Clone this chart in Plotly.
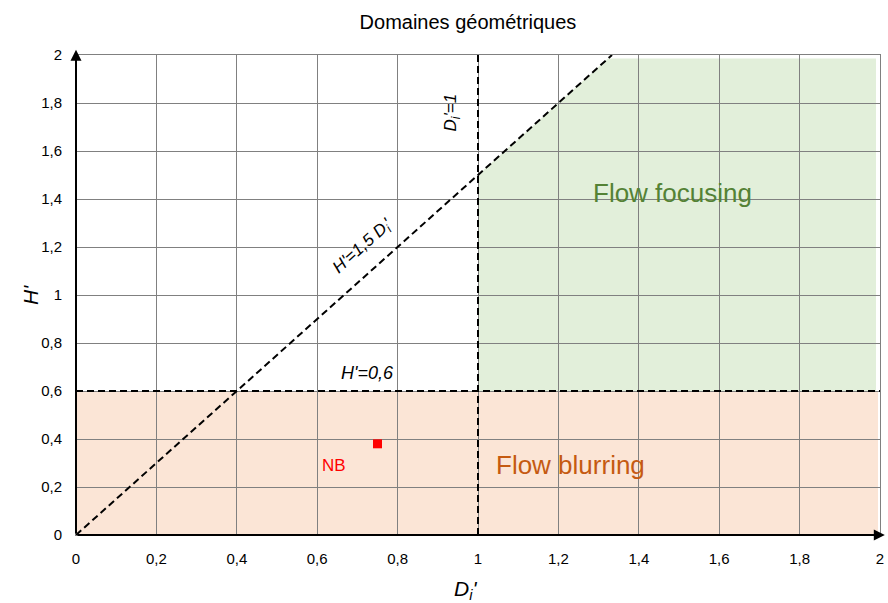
import plotly.graph_objects as go

# ---- data ----
tick_vals = [0, 0.2, 0.4, 0.6, 0.8, 1, 1.2, 1.4, 1.6, 1.8, 2]
tick_text = ["0", "0,2", "0,4", "0,6", "0,8", "1", "1,2", "1,4", "1,6", "1,8", "2"]

diag_x = [0, 4/3]           # H' = 1,5 D'i
diag_y = [0, 2]
vline_x = [1, 1]            # D'i = 1
vline_y = [0, 2]
hline_x = [0, 2]            # H' = 0,6
hline_y = [0.6, 0.6]

focus_x = [1, 1, 1.3233, 1.99, 1.99]
focus_y = [0.6, 1.5, 1.985, 1.985, 0.6]
blur_x = [0, 0, 1.995, 1.995]
blur_y = [0, 0.6, 0.6, 0]

nb_x = [0.75]
nb_y = [0.38]

FONT = "Liberation Sans, Arial, sans-serif"

def path(xs, ys):
    return "M " + " L ".join(f"{x},{y}" for x, y in zip(xs, ys)) + " Z"

fig = go.Figure()

dash = "7px,4px"
for xs, ys in [(diag_x, diag_y), (vline_x, vline_y), (hline_x, hline_y)]:
    fig.add_trace(go.Scatter(x=xs, y=ys, mode="lines",
                             line=dict(color="black", width=2, dash=dash),
                             showlegend=False, hoverinfo="skip", cliponaxis=False))

fig.add_trace(go.Scatter(x=nb_x, y=nb_y, mode="markers",
                         marker=dict(symbol="square", size=9, color="#ff0000"),
                         showlegend=False))

shapes = [
    dict(type="path", path=path(focus_x, focus_y), xref="x", yref="y",
         fillcolor="#e2efda", line=dict(width=0), layer="below"),
    dict(type="path", path=path(blur_x, blur_y), xref="x", yref="y",
         fillcolor="#fbe5d6", line=dict(width=0), layer="below"),
]

annotations = [
    # axis arrows
    dict(x=2.012, y=0, ax=0, ay=0, xref="x", yref="y", axref="x", ayref="y",
         showarrow=True, arrowhead=2, arrowsize=1.1, arrowwidth=2, arrowcolor="black",
         text="", standoff=0, startstandoff=0),
    dict(x=0, y=2.022, ax=0, ay=0, xref="x", yref="y", axref="x", ayref="y",
         showarrow=True, arrowhead=2, arrowsize=1.1, arrowwidth=2, arrowcolor="black",
         text="", standoff=0, startstandoff=0),
    dict(x=0.714, y=1.2, xref="x", yref="y", showarrow=False,
         text="<i>H'=1,5 D<sub>i</sub>'</i>", textangle=-41.8,
         font=dict(family=FONT, size=17, color="black")),
    dict(x=0.935, y=1.76, xref="x", yref="y", showarrow=False,
         text="<i>D<sub>i</sub>'=1</i>", textangle=-90,
         font=dict(family=FONT, size=17, color="black")),
    dict(x=0.726, y=0.675, xref="x", yref="y", showarrow=False,
         text="<i>H'=0,6</i>",
         font=dict(family=FONT, size=18, color="black")),
    dict(x=1.483, y=1.425, xref="x", yref="y", showarrow=False,
         text="Flow focusing",
         font=dict(family=FONT, size=26, color="#548235")),
    dict(x=1.229, y=0.29, xref="x", yref="y", showarrow=False,
         text="Flow blurring",
         font=dict(family=FONT, size=26, color="#c55a11")),
    dict(x=0.642, y=0.29, xref="x", yref="y", showarrow=False,
         text="NB",
         font=dict(family=FONT, size=17, color="#ff0000")),
    # axis titles
    dict(x=0.97, y=0, xref="x", yref="y", yshift=-55, showarrow=False,
         text="<i>D<sub>i</sub>'</i>",
         font=dict(family=FONT, size=21, color="black")),
    dict(x=0, y=1, xref="x", yref="y", xshift=-46, showarrow=False,
         text="<i>H'</i>", textangle=-90,
         font=dict(family=FONT, size=21, color="black")),
]

axis_common = dict(range=[0, 2], tickvals=tick_vals, ticktext=tick_text,
                   showgrid=True, gridcolor="#808080", gridwidth=1,
                   zeroline=False, showline=True, linecolor="#808080",
                   linewidth=1, mirror=True, ticks="",
                   ticklabelstandoff=10, ticklabeloverflow="allow",
                   tickfont=dict(family=FONT, size=15, color="black"),
                   fixedrange=True)

fig.update_layout(
    width=888, height=603,
    margin=dict(l=76, r=8, t=55, b=68, autoexpand=False),
    paper_bgcolor="white", plot_bgcolor="white",
    title=dict(text="Domaines géométriques", x=0.527, xanchor="center",
               y=0.9635, yanchor="middle",
               font=dict(family=FONT, size=20, color="black")),
    xaxis=dict(**axis_common),
    yaxis=dict(**axis_common),
    shapes=shapes,
    annotations=annotations,
    showlegend=False,
    hovermode=False,
)

fig.write_html(
    "out.html",
    config={"displayModeBar": False, "staticPlot": True},
    post_script="document.body.style.margin='0';"
                "document.documentElement.style.overflow='hidden';"
                "document.body.style.overflow='hidden';",
)
